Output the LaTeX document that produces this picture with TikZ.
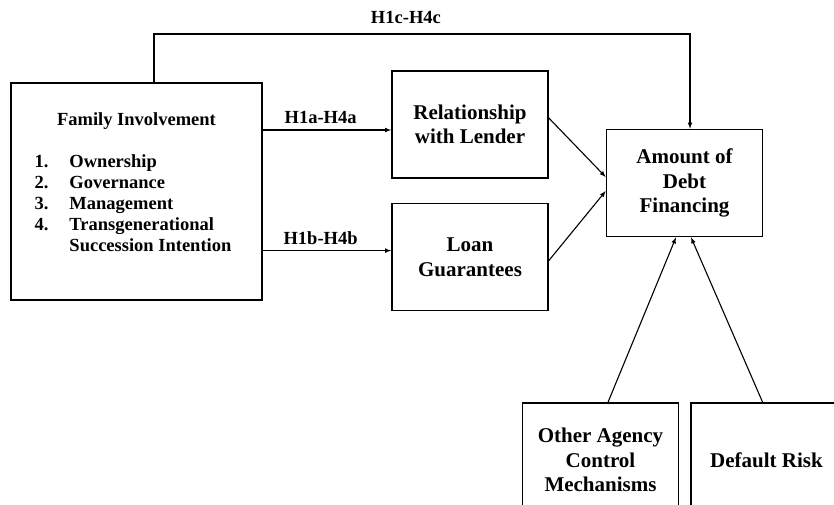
\documentclass[tikz,border=0pt]{standalone}
\usepackage{fontspec}
\setmainfont{Liberation Serif}
\usetikzlibrary{shapes,arrows,positioning}
\tikzstyle{block} = [rectangle, draw, line width=1.6pt, align=center, minimum width=156pt, minimum height=107pt, font=\fontsize{21}{24.5}\selectfont\bfseries]
\tikzstyle{line} = [draw, line width=1.1pt, -latex]
\tikzstyle{hyp} = [font=\fontsize{18.5}{24}\selectfont\bfseries]

\begin{document}
\begin{tikzpicture}[x=1pt, y=-1pt, node distance = 24pt, auto]
            \useasboundingbox (0,0) rectangle (834,504);
            \clip (0,0) rectangle (834,504);

            \node[block, minimum width=251pt, minimum height=217pt, font=\fontsize{18.5}{21}\selectfont\bfseries] (family_involvement) at (136.5,191.5){
                Family Involvement\\[21pt]
                \begin{tabular}[t]{@{}l@{\hspace{21pt}}l@{\hspace{7pt}}}
                    1. & Ownership\\
                    2. & Governance\\
                    3. & Management\\
                    4. & Transgenerational\\
                       & Succession Intention\rule[-18pt]{0pt}{0pt}
                \end{tabular}
            };

            \node[block]                           (relationship) at (470,124.5){
                Relationship\\with Lender
            };
            \path[line] ([yshift=-5.5pt]relationship.west -| family_involvement.east) --
                node[hyp, above=2pt, pos=0.45]{H1a-H4a} ([yshift=-5.5pt]relationship.west);

            \node[block, below=of relationship]    (loan_guarantees){
                Loan\\Guarantees
            };
            \path[line] ([yshift=6.5pt]loan_guarantees.west -| family_involvement.east) --
                node[hyp, above=2pt, pos=0.45]{H1b-H4b} ([yshift=6.5pt]loan_guarantees.west);

            \node[block]                           (debt_financing) at (684.5,183){
                Amount of\\Debt\\Financing
            };
            \path[line] ([yshift=6.5pt]relationship.east) --         ([yshift=6pt]debt_financing.west);
            \path[line] ([yshift=-3.5pt]loan_guarantees.east) --     ([yshift=-8pt]debt_financing.west);

            \coordinate (direct_corner) at (690,34);
            \path[line] ([xshift=17.5pt]family_involvement.north) |-
                node[hyp, above=6pt, pos=0.735]{H1c-H4c} (direct_corner) -- (direct_corner |- debt_financing.north);

            \node[block, minimum height=114pt]     (agency_control) at (600.5,460){
                Other Agency\\Control\\Mechanisms
            };
            \path[line] ([xshift=7.5pt]agency_control.north) --      ([xshift=-8.5pt]debt_financing.south);

            \node[block, minimum height=114pt, right=11pt of agency_control] (default_risk){
                Default Risk
            };
            \path[line] ([xshift=-6.5pt]default_risk.north) --       ([xshift=6.5pt]debt_financing.south);
        \end{tikzpicture}
\end{document}
